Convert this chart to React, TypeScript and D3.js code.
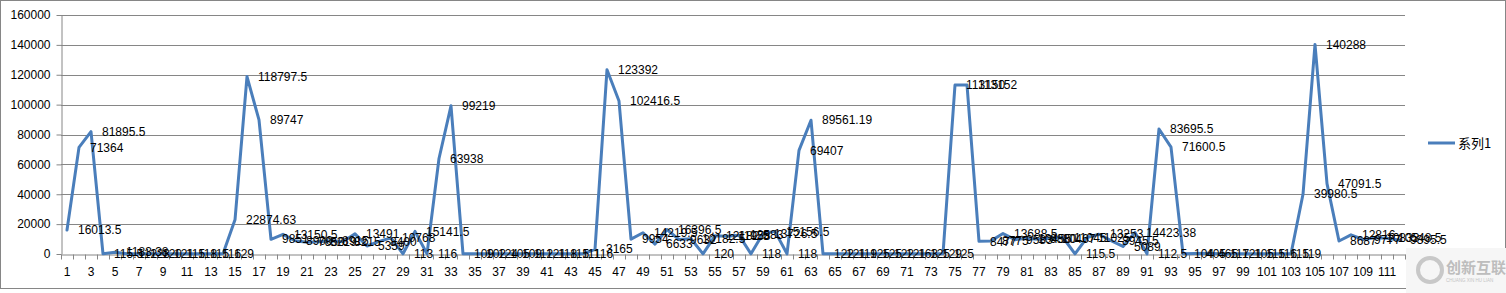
import React, { useEffect, useRef } from "react";
import * as d3 from "d3";

// category labels 1..112
const categories: string[] = Array.from({ length: 112 }, (_, i) => String(i + 1));

const seriesName = "系列1";

const values: number[] = [
    16013.5, 71364, 81895.5, 115.5, 1183.38, 112, 123, 120, 121, 115,
    118, 115, 116, 129, 22874.63, 118797.5, 89747, 9851, 13150.5, 8900,
    7850, 8219, 8915, 8215, 13491, 5359, 8400, 10768, 113, 15141.5,
    116, 63938, 99219, 109, 102, 124, 105, 109, 112, 121,
    118, 115, 111, 116, 3165, 123392, 102416.5, 9954, 14219.5, 6633,
    16396.5, 9632, 10182.5, 120, 12182.5, 11958, 12583, 118, 13726.5, 15156.5,
    118, 69407, 89561.19, 122, 121, 119, 125, 125, 122, 121,
    163, 125, 129, 125, 113150, 113152, 8477, 8775, 13688.5, 9583,
    10455, 9880, 10467, 11045, 115.5, 11025, 13253, 8945.5, 5089, 14423.38,
    112.5, 83695.5, 71600.5, 104, 405, 465, 117, 121, 105, 115,
    116, 115, 119, 39980.5, 140288, 47091.5, 8687, 12816, 9777, 10833,
    10548.5, 9395.5,
];

const yTicks: number[] = [0, 20000, 40000, 60000, 80000, 100000, 120000, 140000, 160000];

const App = (): JSX.Element => {
    const ref = useRef<SVGSVGElement>(null);
    const width = 1506;
    const height = 293;
    const margin = { top: 15, right: 101, bottom: 39, left: 61 };

    useEffect(() => {
        if (!ref.current) return;
        const svg = d3.select(ref.current);
        svg.selectAll("*").remove();

        const grey = "#868686";
        const blue = "#4a7ebb";
        const font = "'Liberation Sans', Arial, sans-serif";

        // chart border
        svg.append("rect")
            .attr("x", 0.5)
            .attr("y", 0.5)
            .attr("width", width - 1)
            .attr("height", 288)
            .attr("fill", "#fff")
            .attr("stroke", grey);

        const x = d3
            .scaleBand<string>()
            .domain(categories)
            .range([margin.left, width - margin.right])
            .padding(0);
        const y = d3
            .scaleLinear()
            .domain([0, 160000])
            .range([height - margin.bottom, margin.top]);

        // gridlines
        svg.append("g")
            .selectAll("line")
            .data(yTicks.slice(1))
            .join("line")
            .attr("x1", margin.left)
            .attr("x2", width - margin.right)
            .attr("y1", (d) => Math.round(y(d)) + 0.5)
            .attr("y2", (d) => Math.round(y(d)) + 0.5)
            .attr("stroke", grey)
            .attr("stroke-width", 1);

        // y axis
        svg.append("g")
            .attr("transform", `translate(${margin.left + 0.5},0)`)
            .call(
                d3
                    .axisLeft(y)
                    .tickValues(yTicks)
                    .tickFormat(d3.format("d") as any)
                    .tickSize(5)
                    .tickPadding(6)
                    .tickSizeOuter(0),
            )
            .call((g: any) => g.selectAll("line").attr("stroke", grey))
            .call((g: any) => g.select(".domain").attr("stroke", grey))
            .call((g: any) => g.selectAll("text").attr("font-size", 12).attr("font-family", font).attr("fill", "#000"));

        // x axis
        const y0 = Math.round(y(0)) + 0.5;
        svg.append("g")
            .attr("transform", `translate(0,${y0})`)
            .call(
                d3
                    .axisBottom(x)
                    .tickValues(categories.filter((_, i) => i % 2 === 0))
                    .tickSize(0)
                    .tickPadding(13)
                    .tickSizeOuter(0),
            )
            .call((g: any) => g.select(".domain").attr("stroke", grey))
            .call((g: any) => g.selectAll("text").attr("font-size", 12).attr("font-family", font).attr("fill", "#000"));

        // tick marks at category boundaries
        const bounds = categories.map((c) => x(c) as number).concat([width - margin.right]);
        svg.append("g")
            .selectAll("line")
            .data(bounds)
            .join("line")
            .attr("x1", (d) => Math.round(d) + 0.5)
            .attr("x2", (d) => Math.round(d) + 0.5)
            .attr("y1", y0)
            .attr("y2", y0 + 5)
            .attr("stroke", grey);

        const cx = (i: number) => (x(categories[i]) as number) + x.bandwidth() / 2;

        // line
        const line = d3
            .line<number>()
            .x((d, i) => cx(i))
            .y((d) => y(d));
        svg.append("path")
            .datum(values)
            .attr("fill", "none")
            .attr("stroke", blue)
            .attr("stroke-width", 3)
            .attr("stroke-linejoin", "round")
            .attr("stroke-linecap", "round")
            .attr("d", line);

        // data labels
        svg.append("g")
            .selectAll("text")
            .data(values)
            .join("text")
            .attr("x", (d, i) => cx(i) + 11)
            .attr("y", (d) => y(d))
            .attr("dy", "0.35em")
            .attr("font-size", 12)
            .attr("font-family", font)
            .attr("fill", "#000")
            .text((d) => String(d));

        // legend
        const lg = svg.append("g").attr("transform", "translate(1428,143)");
        lg.append("line").attr("x1", 0).attr("x2", 27).attr("stroke", blue).attr("stroke-width", 3);
        lg.append("text")
            .attr("x", 30)
            .attr("dy", "0.35em")
            .attr("font-size", 13)
            .attr("font-family", "'Noto Sans CJK SC', sans-serif")
            .attr("fill", "#000")
            .text(seriesName);

        // watermark
        const wm = svg.append("g").attr("transform", "translate(1406,248)");
        wm.append("rect").attr("width", 100).attr("height", 45).attr("fill", "#f6f6f6");
        wm.append("circle").attr("cx", 24).attr("cy", 22).attr("r", 12).attr("fill", "none").attr("stroke", "#c8c8c8").attr("stroke-width", 4);
        wm.append("text")
            .attr("x", 40)
            .attr("y", 25)
            .attr("font-size", 15)
            .attr("font-weight", "bold")
            .attr("font-family", "'Noto Sans CJK SC', sans-serif")
            .attr("fill", "#bdbdbd")
            .text("创新互联");
        wm.append("text")
            .attr("x", 40)
            .attr("y", 34)
            .attr("font-size", 4.5)
            .attr("font-family", font)
            .attr("fill", "#c4c4c4")
            .text("CHUANG XIN HU LIAN");
    }, []);

    return (
        <svg
            ref={ref}
            width={width}
            height={height}
            viewBox={`0 0 ${width} ${height}`}
            style={{ position: "absolute", left: 0, top: 0, display: "block" }}
        />
    );
};

export default App;
